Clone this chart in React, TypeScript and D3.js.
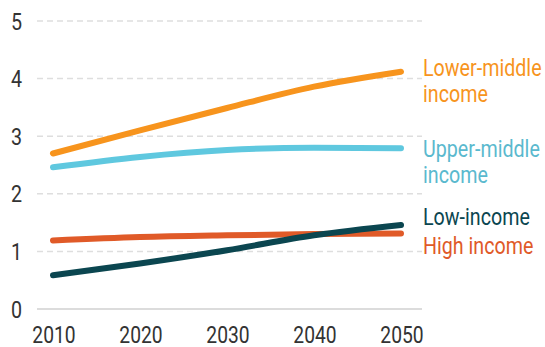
import React from "react";
import * as d3 from "d3";

// Years on the x axis
const years = [2010, 2020, 2030, 2040, 2050];

// Series values by income group
const lowerMiddle = [2.7, 3.1, 3.49, 3.86, 4.12];
const upperMiddle = [2.46, 2.64, 2.76, 2.8, 2.79];
const highIncome = [1.19, 1.25, 1.28, 1.3, 1.31];
const lowIncome = [0.585, 0.79, 1.02, 1.28, 1.46];

const yTicks = [0, 1, 2, 3, 4, 5];

const seriesNames = ["Lower-middle income", "Upper-middle income", "High income", "Low-income"];

const W = 545;
const H = 347;
const FONT = "Roboto, 'Liberation Sans', sans-serif";
// horizontal squeeze giving a condensed look to the type
const SX = 0.82;

type TxtProps = {
  x: number;
  y: number;
  anchor?: "start" | "middle" | "end";
  size?: number;
  fill: string;
  children: React.ReactNode;
};

function Txt({ x, y, anchor = "start", size = 24, fill, children }: TxtProps) {
  return (
    <g transform={`translate(${x},${y}) scale(${SX},1)`}>
      <text x={0} y={0} textAnchor={anchor} fontSize={size} fill={fill}>
        {children}
      </text>
    </g>
  );
}

export default function App() {
  const x = d3.scaleLinear().domain([2010, 2050]).range([53, 401]);
  const y = d3.scaleLinear().domain([0, 5]).range([309, 21]);

  const line = d3
    .line<number>()
    .x((_, i) => x(years[i]))
    .y((v) => y(v))
    .curve(d3.curveMonotoneX);

  const series = [
    { name: seriesNames[0], values: lowerMiddle, color: "#F7941D", text: "#F7941D", lines: ["Lower-middle", "income"], labelY: [76, 102] },
    { name: seriesNames[1], values: upperMiddle, color: "#5FC8DF", text: "#5AB9CE", lines: ["Upper-middle", "income"], labelY: [157, 183] },
    { name: seriesNames[2], values: highIncome, color: "#E05A28", text: "#E05A28", lines: ["High income"], labelY: [254] },
    { name: seriesNames[3], values: lowIncome, color: "#0B4650", text: "#0B4650", lines: ["Low-income"], labelY: [225] },
  ];

  return (
    <svg
      width={W}
      height={H}
      style={{ position: "absolute", left: 0, top: 0, background: "#fff" }}
      fontFamily={FONT}
    >
      {/* grid */}
      {yTicks.map((t) => (
        <line
          key={"g" + t}
          x1={37}
          x2={422}
          y1={y(t)}
          y2={y(t)}
          stroke={t === 0 ? "#dcdcdc" : "#dedede"}
          strokeWidth={t === 0 ? 2 : 1.5}
          strokeDasharray={t === 0 ? undefined : "6 4"}
        />
      ))}
      {/* y labels */}
      {yTicks.map((t) => (
        <Txt key={"yl" + t} x={11} y={y(t) + 8.5} fill="#333">
          {t}
        </Txt>
      ))}
      {/* x labels */}
      {years.map((yr) => (
        <Txt key={"xl" + yr} x={x(yr) + 1} y={343} anchor="middle" size={23.5} fill="#333">
          {yr}
        </Txt>
      ))}
      {/* lines */}
      {series.map((s) => (
        <path
          key={s.name}
          d={line(s.values) || ""}
          fill="none"
          stroke={s.color}
          strokeWidth={6}
          strokeLinecap="round"
          strokeLinejoin="round"
        />
      ))}
      {/* end labels */}
      {series.map((s) =>
        s.lines.map((l, i) => (
          <Txt key={s.name + i} x={423} y={s.labelY[i]} fill={s.text}>
            {l}
          </Txt>
        ))
      )}
    </svg>
  );
}
